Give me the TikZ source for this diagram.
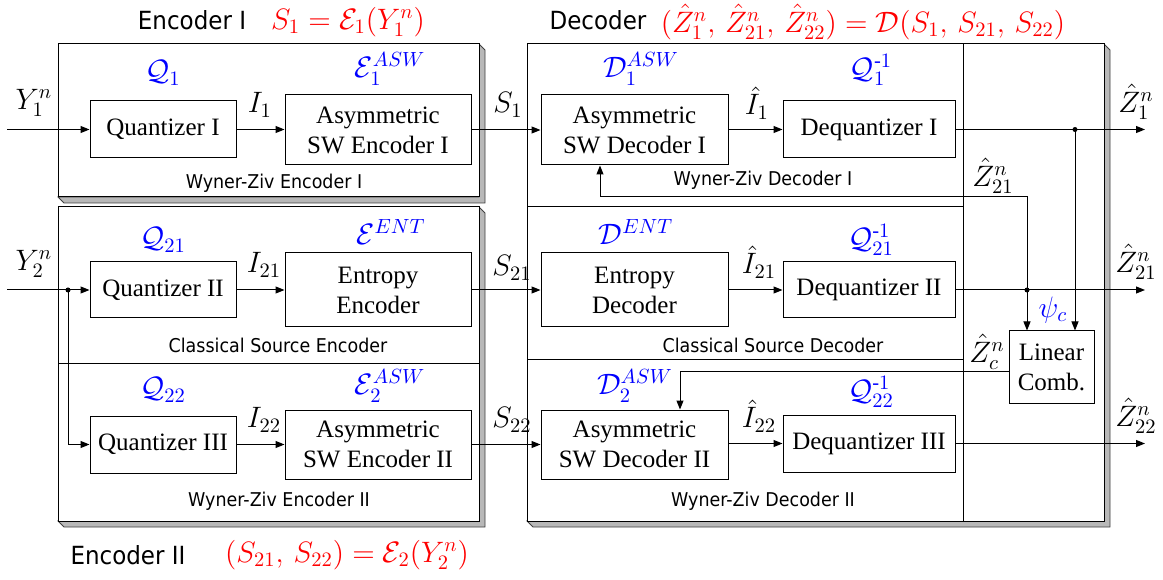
\documentclass[tikz,border=0pt]{standalone}
\usepackage{amsmath}
\usepackage{fontspec}
\setmainfont{Liberation Serif}
\newfontfamily\capfont{DejaVu Sans}[FakeStretch=0.92]
\usetikzlibrary{arrows.meta,calc}

\definecolor{slabgray}{RGB}{184,184,184}
\definecolor{lblred}{RGB}{255,0,0}
\definecolor{lblblue}{RGB}{0,0,255}

% framed panel with a raised edge on its right and bottom sides
\newcommand\slabpanel[4]{%
  \filldraw[fill=slabgray, draw=black!75, line width=0.8pt]
    (#3,#2) -- ({#3+6},{#2+6}) -- ({#3+6},{#4+6}) -- ({#1+6},{#4+6})
    -- (#1,#4) -- (#3,#4) -- cycle;
  \draw[line width=1pt, fill=white] (#1,#2) rectangle (#3,#4);
}

\begin{document}
\begin{tikzpicture}[x=1pt, y=-1pt,
  blk/.style={draw, line width=1pt, fill=white, align=center, inner sep=0pt,
    font=\fontsize{25}{30}\selectfont},
  sig/.style={line width=1pt, -{Triangle[length=9pt,width=7pt]}},
  lab/.style={inner sep=0pt, font=\fontsize{14.4}{17}\selectfont, scale=2.05},
  blab/.style={lab, text=lblblue},
  rlab/.style={lab, text=lblred},
  paneltext/.style={inner sep=0pt, font=\capfont\fontsize{19}{22}\selectfont},
  ttl/.style={inner sep=0pt, font=\capfont\fontsize{25}{30}\selectfont},
  dot/.style={circle, fill, inner sep=0pt, minimum size=5pt}
]
\useasboundingbox (0,0) rectangle (1163,580);

% ---------- panels ----------
\slabpanel{58}{44}{479}{197}
\slabpanel{58}{207}{479}{521}
\draw[line width=1pt] (58,363) -- (479,363);
\slabpanel{527}{44}{1104}{521}
\draw[line width=1pt] (963,44) -- (963,521);
\draw[line width=1pt] (527,207) -- (963,207);
\draw[line width=1pt] (527,359) -- (963,359);

% ---------- encoder blocks ----------
\node[blk, minimum width=146pt, minimum height=57pt] (q1) at (163,129.5) {Quantizer I};
\node[blk, minimum width=186pt, minimum height=70pt] (ae1) at (378,130) {Asymmetric\\SW Encoder I};
\node[blk, minimum width=146pt, minimum height=56pt] (q2) at (163,290) {Quantizer II};
\node[blk, minimum width=186pt, minimum height=74pt] (ee) at (378,290) {Entropy\\Encoder};
\node[blk, minimum width=146pt, minimum height=57pt] (q3) at (163,444.5) {Quantizer III};
\node[blk, minimum width=186pt, minimum height=69pt] (ae2) at (378,444.5) {Asymmetric\\SW Encoder II};

% ---------- decoder blocks ----------
\node[blk, minimum width=187pt, minimum height=70pt] (ad1) at (634.5,130) {Asymmetric\\SW Decoder I};
\node[blk, minimum width=172pt, minimum height=57pt] (dq1) at (869,129.5) {Dequantizer I};
\node[blk, minimum width=187pt, minimum height=74pt] (ed) at (634.5,290) {Entropy\\Decoder};
\node[blk, minimum width=172pt, minimum height=56pt] (dq2) at (869,290) {Dequantizer II};
\node[blk, minimum width=187pt, minimum height=69pt] (ad2) at (634.5,444.5) {Asymmetric\\SW Decoder II};
\node[blk, minimum width=172pt, minimum height=57pt] (dq3) at (869,443.5) {Dequantizer III};
\node[blk, minimum width=85pt, minimum height=72pt] (lc) at (1051.5,367) {Linear\\Comb.};

% ---------- connector end points ----------
\coordinate (in1) at (7,129.5);
\coordinate (in2) at (7,290);
\coordinate (out1) at (1145,129.5);
\coordinate (out2) at (1145,290);
\coordinate (out3) at (1145,443.5);
\coordinate (j2) at (68,290);
\coordinate (j1) at (1075,129.5);
\coordinate (j21) at (1027,290);
\coordinate (fbk) at (600,197);
\coordinate (zc) at (1009,371);
\coordinate (zcturn) at (680,371);

% ---------- encoder connectors ----------
\draw[sig] (in1) -- (q1.west);
\draw[sig] (q1) -- (q1.east -| ae1.west);
\draw[sig] (in2) -- (q2.west);
\draw[sig] (q2) -- (ee);
\draw[sig] (j2) |- (q3.west);
\draw[sig] (q3) -- (q3.east -| ae2.west);

% ---------- channel ----------
\draw[sig] (ae1) -- (ad1);
\draw[sig] (ee) -- (ed);
\draw[sig] (ae2) -- (ad2);

% ---------- decoder connectors ----------
\draw[sig] (ad1.east |- dq1.east) -- (dq1.west);
\draw[sig] (dq1.east) -- (out1);
\draw[sig] (ed.east |- dq2.east) -- (dq2.west);
\draw[sig] (dq2.east) -- (out2);
\draw[sig] (ad2.east |- dq3.east) -- (dq3.west);
\draw[sig] (dq3.east) -- (out3);
\draw[sig] (j1) -- (j1 |- lc.north);
\draw[sig] (j21) -- (j21 |- lc.north);
\draw[sig] (j21) |- (fbk) -- (fbk |- ad1.south);
\draw[sig] (zc) -- (zcturn) -- (zcturn |- ad2.north);

\node[dot] (d2) at (j2) {};
\node[dot] (d1) at (j1) {};
\node[dot] (d21) at (j21) {};

% ---------- signal labels ----------
\node[lab] (lY1) at (34,103) {$Y_1^n$};
\node[lab] (lY2) at (34,264) {$Y_2^n$};
\node[lab] (lI1) at (260,105) {$I_1$};
\node[lab] (lI21) at (264,265) {$I_{21}$};
\node[lab] (lI22) at (264,420) {$I_{22}$};
\node[lab] (lS1) at (508,105) {$S_1$};
\node[lab] (lS21) at (512,268) {$S_{21}$};
\node[lab] (lS22) at (512,420) {$S_{22}$};
\node[lab] (lIh1) at (757,103) {$\hat I_1$};
\node[lab] (lIh21) at (759,262) {$\hat I_{21}$};
\node[lab] (lIh22) at (759,416) {$\hat I_{22}$};
\node[lab] (lZ1) at (1136,102) {$\hat Z_1^n$};
\node[lab] (lZ21) at (1136,262) {$\hat Z_{21}^n$};
\node[lab] (lZ22) at (1136,416) {$\hat Z_{22}^n$};
\node[lab] (lZfb) at (993,176) {$\hat Z_{21}^n$};
\node[lab] (lZc) at (987,352) {$\hat Z_c^n$};
\node[blab] (lpsi) at (1053,310) {$\psi_c$};

% ---------- operator labels ----------
\node[blab] (oQ1) at (163,73) {$\mathcal{Q}_1$};
\node[blab] (oE1) at (390,69) {$\mathcal{E}_1^{ASW}$};
\node[blab] (oQ21) at (163,240) {$\mathcal{Q}_{21}$};
\node[blab] (oEent) at (391,232) {$\mathcal{E}^{ENT}$};
\node[blab] (oQ22) at (163,390) {$\mathcal{Q}_{22}$};
\node[blab] (oE2) at (390,386) {$\mathcal{E}_2^{ASW}$};
\node[blab] (oD1) at (641,69) {$\mathcal{D}_1^{ASW}$};
\node[blab] (oQi1) at (871,70) {$\mathcal{Q}_1^{\text{-}1}$};
\node[blab] (oDent) at (636,232) {$\mathcal{D}^{ENT}$};
\node[blab] (oQi21) at (871,240) {$\mathcal{Q}_{21}^{\text{-}1}$};
\node[blab] (oD2) at (635,386) {$\mathcal{D}_2^{ASW}$};
\node[blab] (oQi22) at (871,392) {$\mathcal{Q}_{22}^{\text{-}1}$};

% ---------- panel captions ----------
\node[paneltext] (cWZE1) at (274,183) {Wyner-Ziv Encoder I};
\node[paneltext] (cCSE) at (278,345) {Classical Source Encoder};
\node[paneltext] (cWZE2) at (279,501) {Wyner-Ziv Encoder II};
\node[paneltext] (cWZD1) at (763,180) {Wyner-Ziv Decoder I};
\node[paneltext] (cCSD) at (773,345) {Classical Source Decoder};
\node[paneltext] (cWZD2) at (763,501) {Wyner-Ziv Decoder II};

% ---------- titles ----------
\node[ttl] (tE1) at (192,20) {Encoder I};
\node[rlab] (fE1) at (348,22) {$S_1 = \mathcal{E}_1(Y_1^n)$};
\node[ttl] (tD) at (598,20) {Decoder};
\node[rlab] (fD) at (863,22) {$(\hat Z_1^n,\, \hat Z_{21}^n,\, \hat Z_{22}^n) = \mathcal{D}(S_1,\, S_{21},\, S_{22})$};
\node[ttl] (tE2) at (128,555) {Encoder II};
\node[rlab] (fE2) at (347,555) {$(S_{21},\, S_{22}) = \mathcal{E}_2(Y_2^n)$};
\end{tikzpicture}
\end{document}
